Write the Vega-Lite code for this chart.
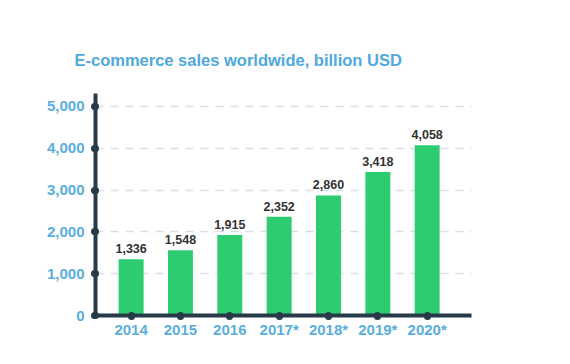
{
  "$schema": "https://vega.github.io/schema/vega-lite/v6.json",
  "width": 376,
  "height": 222,
  "autosize": "none",
  "padding": {"left": 95, "top": 93, "right": 99, "bottom": 49},
  "background": "white",
  "title": {
    "text": "E-commerce sales worldwide, billion USD",
    "anchor": "start",
    "dx": 28,
    "offset": 24,
    "color": "#4FA9DD",
    "fontSize": 16.5,
    "fontWeight": "bold",
    "font": "Liberation Sans"
  },
  "config": {"view": {"stroke": null}},
  "data": {
    "values": [
      {"year": "2014", "sales": 1336},
      {"year": "2015", "sales": 1548},
      {"year": "2016", "sales": 1915},
      {"year": "2017*", "sales": 2352},
      {"year": "2018*", "sales": 2860},
      {"year": "2019*", "sales": 3418},
      {"year": "2020*", "sales": 4058}
    ]
  },
  "encoding": {
    "x": {
      "field": "year",
      "type": "nominal",
      "sort": null,
      "scale": {"paddingInner": 0.494, "paddingOuter": 0.557, "align": 0.43},
      "axis": {
        "title": null,
        "labelAngle": 0,
        "labelColor": "#5AAEE0",
        "labelFontSize": 15,
        "labelFontWeight": "bold",
        "labelFont": "Liberation Sans",
        "labelPadding": 6,
        "domainColor": "#263A47",
        "domainWidth": 4,
        "tickColor": "#263A47",
        "tickSize": 1,
        "tickWidth": 7,
        "tickCap": "round",
        "zindex": 1
      }
    },
    "y": {
      "field": "sales",
      "type": "quantitative",
      "scale": {"domain": [0, 5310], "nice": false},
      "axis": {
        "title": null,
        "values": [0, 1000, 2000, 3000, 4000, 5000],
        "format": ",.0f",
        "grid": true,
        "gridDash": [8, 7],
        "gridColor": "#d9dfe2",
        "gridWidth": 1.5,
        "labelColor": "#5AAEE0",
        "labelFontSize": 15,
        "labelFontWeight": "bold",
        "labelFont": "Liberation Sans",
        "labelPadding": 10,
        "domainColor": "#263A47",
        "domainWidth": 4,
        "tickColor": "#263A47",
        "tickSize": 1,
        "tickWidth": 7,
        "tickCap": "round",
        "zindex": 0
      }
    }
  },
  "layer": [
    {"mark": {"type": "bar", "color": "#2ECC71"}},
    {
      "mark": {"type": "text", "dy": -10, "color": "#333333", "fontSize": 12.5, "fontWeight": "bold", "font": "Liberation Sans"},
      "encoding": {"text": {"field": "sales", "type": "quantitative", "format": ",.0f"}}
    }
  ]
}
